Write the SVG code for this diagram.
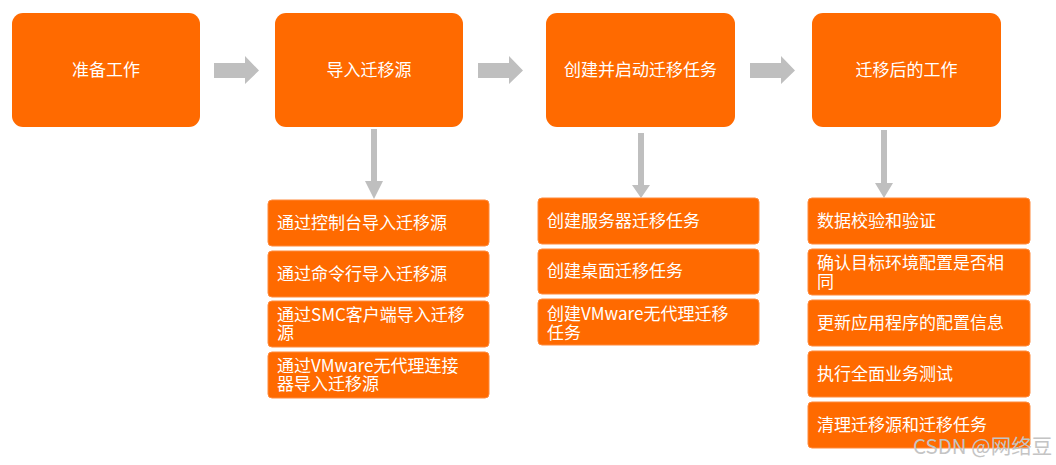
<svg xmlns="http://www.w3.org/2000/svg" width="1056" height="465" viewBox="0 0 1056 465">
<style>
.main{fill:#FF6A00}
.sub{fill:#FF6A00;stroke:#FF8A3D;stroke-width:1}
.arr{fill:#BFBFBF}
text{font-family:"Microsoft YaHei","Noto Sans CJK SC","Noto Sans",sans-serif;font-size:17px;fill:#FFFFFF}
.c{text-anchor:middle}
.wm{fill:#C4C4C4;font-size:20.5px}
</style>
<rect width="1056" height="465" fill="#FFFFFF"/>
<g id="connectors">
<polygon class="arr" points="214,63 245,63 245,56 259,70.5 245,84 245,78 214,78"/>
<polygon class="arr" points="478,63 509,63 509,56 523,70.5 509,84 509,78 478,78"/>
<polygon class="arr" points="750,63 781,63 781,56 795,70.5 781,84 781,78 750,78"/>
<polygon class="arr" points="371,129 377,129 377,181 383,181 374,199 365,181 371,181"/>
<polygon class="arr" points="638,133 644,133 644,185 650,185 641,198 632,185 638,185"/>
<polygon class="arr" points="881,130 887,130 887,183 893,183 884,198 875,183 881,183"/>
</g>
<g id="n1"><rect class="main" x="12" y="13" width="188" height="114" rx="11"/><text class="c" x="106" y="76">准备工作</text></g>
<g id="n2"><rect class="main" x="275" y="13" width="188" height="114" rx="11"/><text class="c" x="369" y="76">导入迁移源</text></g>
<g id="n3"><rect class="main" x="546" y="13" width="189" height="114" rx="11"/><text class="c" x="640.5" y="76">创建并启动迁移任务</text></g>
<g id="n4"><rect class="main" x="812" y="13" width="189" height="114" rx="11"/><text class="c" x="906.5" y="76">迁移后的工作</text></g>

<g id="s2a"><rect class="sub" x="268" y="200" width="221" height="46" rx="4"/><text x="277" y="229">通过控制台导入迁移源</text></g>
<g id="s2b"><rect class="sub" x="268" y="251" width="221" height="46" rx="4"/><text x="277" y="280">通过命令行导入迁移源</text></g>
<g id="s2c"><rect class="sub" x="268" y="301" width="221" height="46" rx="4"/><text x="277" y="321">通过SMC客户端导入迁移<tspan x="277" dy="18">源</tspan></text></g>
<g id="s2d"><rect class="sub" x="268" y="352" width="221" height="46" rx="4"/><text x="277" y="372">通过VMware无代理连接<tspan x="277" dy="18">器导入迁移源</tspan></text></g>

<g id="s3a"><rect class="sub" x="538" y="198" width="221" height="46" rx="4"/><text x="547" y="227">创建服务器迁移任务</text></g>
<g id="s3b"><rect class="sub" x="538" y="249" width="221" height="45" rx="4"/><text x="547" y="277">创建桌面迁移任务</text></g>
<g id="s3c"><rect class="sub" x="538" y="299" width="221" height="46" rx="4"/><text x="547" y="320">创建VMware无代理迁移<tspan x="547" dy="19">任务</tspan></text></g>

<g id="s4a"><rect class="sub" x="808" y="198" width="222" height="46" rx="4"/><text x="817" y="227">数据校验和验证</text></g>
<g id="s4b"><rect class="sub" x="808" y="249" width="222" height="46" rx="4"/><text x="817" y="269">确认目标环境配置是否相<tspan x="817" dy="19">同</tspan></text></g>
<g id="s4c"><rect class="sub" x="808" y="300" width="222" height="46" rx="4"/><text x="817" y="329">更新应用程序的配置信息</text></g>
<g id="s4d"><rect class="sub" x="808" y="351" width="222" height="46" rx="4"/><text x="817" y="380">执行全面业务测试</text></g>
<g id="s4e"><rect class="sub" x="808" y="402" width="222" height="46" rx="4"/><text x="817" y="431">清理迁移源和迁移任务</text></g>

<text class="wm" x="913" y="454">CSDN @网络豆</text>
</svg>
